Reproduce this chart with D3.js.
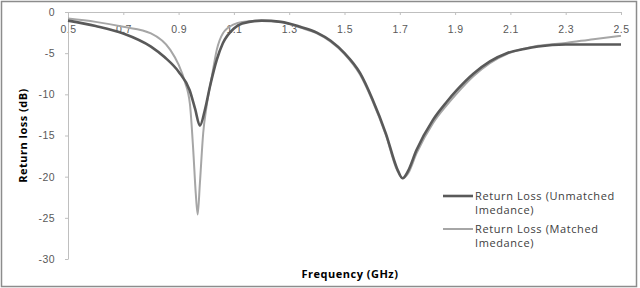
<!DOCTYPE html>
<html>
<head>
<meta charset="utf-8">
<script src="https://cdn.jsdelivr.net/npm/d3@7"></script>
<style>
  body { margin: 0; background: #fff; }
  svg { display: block; font-family: "Open Sans", sans-serif; }
  .tick text { fill: #595959; font-size: 10.5px; letter-spacing: 0.4px; }
  .axis path, .axis line { stroke: #bfbfbf; }
  .title { font-weight: bold; font-size: 11px; fill: #000; letter-spacing: 0.5px; }
  .legend text { font-size: 11px; fill: #404040; letter-spacing: 0.6px; }
</style>
</head>
<body>
<div id="chart"></div>
<script>
// unmatched impedance (dark line)
const freqUnmatched = [0.5, 0.6, 0.7, 0.8, 0.85, 0.9, 0.94, 0.96, 0.977, 0.995, 1.013, 1.038, 1.06, 1.1, 1.13, 1.2, 1.27, 1.34, 1.4, 1.45, 1.5, 1.556, 1.6, 1.65, 1.69, 1.71, 1.73, 1.76, 1.82, 1.87, 1.906, 1.966, 2.026, 2.087, 2.15, 2.2, 2.3, 2.4, 2.5];
const lossUnmatched = [-1.05, -1.7, -2.6, -4.2, -5.5, -7.25, -9.5, -11.8, -13.8, -11.9, -9.1, -5.8, -3.8, -2.0, -1.4, -1.05, -1.2, -1.8, -2.5, -3.5, -5.0, -7.4, -10.5, -14.8, -19.0, -20.2, -19.3, -16.8, -13.1, -10.9, -9.5, -7.5, -6.0, -5.0, -4.5, -4.2, -3.95, -3.95, -3.95];

// matched impedance (light line)
const freqMatched = [0.5, 0.6, 0.7, 0.8, 0.87, 0.9, 0.923, 0.941, 0.953, 0.962, 0.969, 0.977, 0.989, 1.001, 1.02, 1.038, 1.06, 1.1, 1.13, 1.2, 1.27, 1.34, 1.4, 1.45, 1.5, 1.556, 1.6, 1.65, 1.69, 1.71, 1.73, 1.76, 1.82, 1.87, 1.906, 1.966, 2.026, 2.087, 2.15, 2.2, 2.3, 2.4, 2.5];
const lossMatched = [-0.8, -1.2, -1.8, -2.6, -4.6, -6.4, -8.5, -11.2, -16.8, -22, -24.6, -20.8, -14.7, -11.5, -7.9, -4.6, -2.6, -1.5, -1.2, -1.05, -1.2, -1.9, -2.6, -3.6, -5.1, -7.6, -10.7, -15.0, -19.2, -20.2, -19.6, -17.2, -13.5, -11.3, -9.9, -7.8, -6.2, -5.1, -4.45, -4.1, -3.75, -3.3, -2.9];

const xTicks = [0.5, 0.7, 0.9, 1.1, 1.3, 1.5, 1.7, 1.9, 2.1, 2.3, 2.5];
const yTicks = [0, -5, -10, -15, -20, -25, -30];
const seriesNames = ["Return Loss (Unmatched|Imedance)", "Return Loss (Matched|Imedance)"];
const seriesColors = ["#595959", "#a6a6a6"];

const W = 640, H = 288;
let margin = {top: 12, right: 19, bottom: 29, left: 68};
let width = W - margin.left - margin.right;
let height = H - margin.top - margin.bottom;

let svg0 = d3.select("#chart").append("svg")
  .attr("width", W)
  .attr("height", H);

// outer frame
svg0.append("rect")
  .attr("x", 1.5).attr("y", 1.5)
  .attr("width", 635).attr("height", 285)
  .attr("fill", "#fff")
  .attr("stroke", "#8c8c8c")
  .attr("stroke-width", 1.5);

let svg = svg0.append("g")
  .attr("transform", "translate(" + margin.left + "," + margin.top + ")");

let x = d3.scaleLinear().domain([0.5, 2.5]).range([0, width]);
let y = d3.scaleLinear().domain([-30, 0]).range([height, 0]);

// x axis sits at y = 0 (top)
svg.append("g")
  .attr("class", "axis")
  .attr("transform", "translate(0," + y(0) + ")")
  .call(d3.axisBottom(x).tickValues(xTicks).tickSize(3).tickSizeOuter(0).tickPadding(11)
    .tickFormat(d3.format(".1f")));

let yAxis = svg.append("g")
  .attr("class", "axis")
  .call(d3.axisLeft(y).tickValues(yTicks).tickSize(3).tickSizeOuter(0).tickPadding(10));
yAxis.selectAll(".tick text").text(d => d === 0 ? "0" : "-" + Math.abs(d));

let line = d3.line()
  .x(d => x(d[0]))
  .y(d => y(d[1]))
  .curve(d3.curveMonotoneX);

const series = [
  d3.zip(freqUnmatched, lossUnmatched),
  d3.zip(freqMatched, lossMatched)
];

svg.append("path")
  .datum(series[1])
  .attr("fill", "none")
  .attr("stroke", seriesColors[1])
  .attr("stroke-width", 2)
  .attr("d", line);

svg.append("path")
  .datum(series[0])
  .attr("fill", "none")
  .attr("stroke", seriesColors[0])
  .attr("stroke-width", 2.6)
  .attr("d", line);

// axis titles
svg0.append("text")
  .attr("class", "title")
  .attr("text-anchor", "middle")
  .attr("transform", "translate(27," + (margin.top + height / 2) + ") rotate(-90)")
  .text("Return loss (dB)");

svg0.append("text")
  .attr("class", "title")
  .attr("text-anchor", "middle")
  .attr("x", 350)
  .attr("y", 278)
  .text("Frequency (GHz)");

// legend
let legend = svg0.append("g").attr("class", "legend");
seriesNames.forEach((name, i) => {
  let ly = 196 + i * 33;
  legend.append("line")
    .attr("x1", 443).attr("x2", 473)
    .attr("y1", ly).attr("y2", ly)
    .attr("stroke", seriesColors[i])
    .attr("stroke-width", i === 0 ? 2.6 : 2);
  let t = legend.append("text").attr("x", 475).attr("y", ly + 4);
  name.split("|").forEach((part, j) => {
    t.append("tspan").attr("x", 475).attr("dy", j === 0 ? 0 : 14).text(part);
  });
});
</script>
</body>
</html>
